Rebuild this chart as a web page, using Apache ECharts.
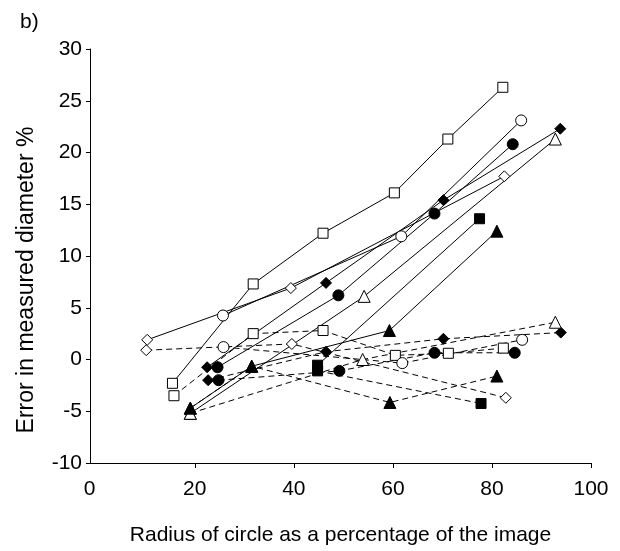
<!DOCTYPE html>
<html>
<head>
<meta charset="utf-8">
<script src="https://cdn.jsdelivr.net/npm/echarts@6/dist/echarts.min.js"></script>
<style>
html,body{margin:0;padding:0;background:#fff}
#main{width:620px;height:551px}
</style>
</head>
<body>
<div id="main"></div>
<script>
// x ticks shown on the axis
var xTicks = [0, 20, 40, 60, 80, 100];

// solid lines
var openSquareSolid = [[15.5,-2.3],[31.8,7.3],[45.9,12.2],[60.3,16.1],[71.1,21.3],[82.2,26.3]];
var openCircleSolid = [[25.7,4.25],[61.7,11.9],[85.9,23.1]];
var openDiamondSolid = [[10.4,1.9],[39.4,6.9],[82.5,17.7]];
var fillDiamondSolid = [[22.5,-0.75],[46.5,7.4],[70.2,15.4],[93.8,22.3]];
var fillCircleSolid = [[24.6,-0.75],[49.0,6.2],[68.4,14.1],[84.2,20.8]];
var openTriSolid = [[19.1,-5.2],[54.2,6.1],[92.8,21.3]];
var fillTriSolid = [[19.1,-4.7],[31.5,-0.65],[59.3,2.8],[81.0,12.4]];
var fillSquareSolid = [[44.8,-0.55],[77.5,13.6]];

// dashed lines
var openSquareDash = [[15.8,-3.5],[31.8,2.5],[45.9,2.8],[60.5,0.4],[71.2,0.6],[82.3,1.1]];
var openCircleDash = [[25.8,1.2],[61.9,-0.35],[86.1,1.9]];
var openDiamondDash = [[10.2,0.9],[39.6,1.5],[82.8,-3.7]];
var fillDiamondDash = [[22.7,-2.0],[46.5,0.75],[70.2,2.0],[93.9,2.6]];
var fillCircleDash = [[24.8,-2.0],[49.2,-1.1],[68.4,0.65],[84.6,0.65]];
var openTriDash = [[19.1,-5.2],[53.9,0.0],[92.8,3.6]];
var fillTriDash = [[19.1,-4.7],[31.5,-0.65],[59.4,-4.15],[81.0,-1.6]];
var fillSquareDash = [[44.8,-1.1],[77.8,-4.25]];

var myChart = echarts.init(document.getElementById('main'));

function mk(data, symbol, filled, dashed, size){
    return {
        type: 'line',
        data: data,
        symbol: symbol,
        symbolSize: size,
        showAllSymbol: true,
        animation: false,
        lineStyle: {color: '#000', width: 1, type: dashed ? [6, 4] : 'solid'},
        itemStyle: {color: filled ? '#000' : '#fff', borderColor: '#000', borderWidth: 1},
        emphasis: {disabled: true}
    };
}

var fam = '"Liberation Sans", Arial, sans-serif';

var option = {
    backgroundColor: '#fff',
    animation: false,
    title: {
        text: 'b)',
        left: 15,
        top: 7,
        textStyle: {color: '#000', fontSize: 21, fontWeight: 'normal', fontFamily: fam}
    },
    grid: {left: 90, right: 29, top: 49, bottom: 88},
    xAxis: {
        type: 'value',
        min: -1.15,
        max: 100,
        name: 'Radius of circle as a percentage of the image',
        nameLocation: 'middle',
        nameGap: 62,
        nameTextStyle: {color: '#000', fontSize: 21, fontFamily: fam},
        axisLine: {onZero: false, lineStyle: {color: '#000', width: 1}},
        axisTick: {customValues: [20, 40, 60, 80, 100], length: 5, lineStyle: {color: '#000'}},
        axisLabel: {
            customValues: xTicks,
            margin: 16,
            formatter: function(v){ return v === 0 ? '{z|0}' : String(v); },
            rich: {z: {padding: [0, 12, 0, 0], fontSize: 21, color: '#000', fontFamily: fam}},
            color: '#000', fontSize: 21, fontFamily: fam
        },
        splitLine: {show: false}
    },
    yAxis: {
        type: 'value',
        min: -10,
        max: 30,
        interval: 5,
        name: 'Error in measured diameter %',
        nameLocation: 'middle',
        nameGap: 52,
        nameTextStyle: {color: '#000', fontSize: 23, padding: [0, 48, 0, 0], fontFamily: fam},
        axisLine: {show: true, onZero: false, lineStyle: {color: '#000', width: 1}},
        axisTick: {show: true, length: 4, lineStyle: {color: '#000'}},
        axisLabel: {margin: 8, color: '#000', fontSize: 21, fontFamily: fam},
        splitLine: {show: false}
    },
    series: [
        mk(openSquareDash, 'rect', false, true, 10),
        mk(openCircleDash, 'circle', false, true, 11),
        mk(openDiamondDash, 'diamond', false, true, 11),
        mk(fillDiamondDash, 'diamond', true, true, 11),
        mk(fillCircleDash, 'circle', true, true, 11),
        mk(openTriDash, 'triangle', false, true, 12),
        mk(fillTriDash, 'triangle', true, true, 12),
        mk(fillSquareDash, 'rect', true, true, 10),
        mk(openSquareSolid, 'rect', false, false, 10),
        mk(openCircleSolid, 'circle', false, false, 11),
        mk(openDiamondSolid, 'diamond', false, false, 11),
        mk(fillDiamondSolid, 'diamond', true, false, 11),
        mk(fillCircleSolid, 'circle', true, false, 11),
        mk(openTriSolid, 'triangle', false, false, 12),
        mk(fillTriSolid, 'triangle', true, false, 12),
        mk(fillSquareSolid, 'rect', true, false, 10)
    ]
};
myChart.setOption(option);
</script>
</body>
</html>
